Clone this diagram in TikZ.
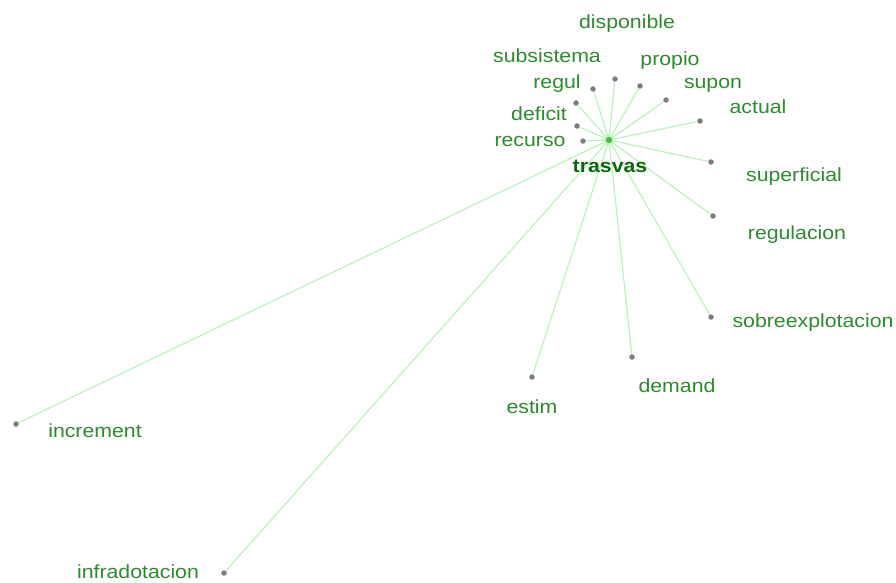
\documentclass[tikz,border=0pt]{standalone}
\usepackage{fontspec}
\setmainfont{Liberation Sans}[FakeStretch=1.12]
\definecolor{lblgreen}{RGB}{45,140,45}
\definecolor{hubgreen}{RGB}{10,105,10}
\definecolor{edgegreen}{RGB}{185,240,185}
\definecolor{dotgrey}{RGB}{125,125,125}
\tikzset{
  leaf/.style={circle,fill=dotgrey,inner sep=0pt,minimum size=5.5pt},
  hub/.style={circle,fill=green!45!gray,inner sep=0pt,minimum size=6pt},
  lbl/.style={text=lblgreen,inner sep=0pt,font=\fontsize{19}{21}\selectfont},
  hublbl/.style={text=hubgreen,inner sep=0pt,font=\fontsize{19}{21}\selectfont\bfseries},
  edge/.style={draw=edgegreen,line width=1.1pt}
}
\begin{document}
\begin{tikzpicture}[x=1pt,y=-1pt]
\useasboundingbox (0,0) rectangle (896,583);
\fill[white] (0,0) rectangle (896,583);
\fill[green!30,opacity=0.5] (609,140) circle (6pt);
\node[hub] (c) at (609,140) {};
% leaf dots
\node[leaf] (d1) at (615,79) {};
\node[leaf] (d2) at (640,86) {};
\node[leaf] (d3) at (593,89) {};
\node[leaf] (d4) at (576,103) {};
\node[leaf] (d5) at (577,126) {};
\node[leaf] (d6) at (583,141) {};
\node[leaf] (d7) at (666,100) {};
\node[leaf] (d8) at (700,121) {};
\node[leaf] (d9) at (711,162) {};
\node[leaf] (d10) at (713,216) {};
\node[leaf] (d11) at (711,317) {};
\node[leaf] (d12) at (632,357) {};
\node[leaf] (d13) at (532,377) {};
\node[leaf] (d14) at (16,424) {};
\node[leaf] (d15) at (224,573) {};
\foreach \i in {1,...,15} \draw[edge] (c) -- (d\i);
\node[hub] at (609,140) {};
% labels
\node[lbl] (l1) at (627,24) {disponible};
\node[lbl] (l2) at (547,56) {subsistema};
\node[lbl] (l3) at (670,61) {propio};
\node[lbl] (l4) at (557,84) {regul};
\node[lbl] (l5) at (713,85) {supon};
\node[lbl] (l6) at (539,114) {deficit};
\node[lbl] (l7) at (758,107) {actual};
\node[lbl] (l8) at (530,141) {recurso};
\node[hublbl] (hl) at (610,166) {trasvas};
\node[lbl] (l9) at (794,177) {superficial};
\node[lbl] (l10) at (797,235) {regulacion};
\node[lbl] (l11) at (813,323) {sobreexplotacion};
\node[lbl] (l12) at (677,386) {demand};
\node[lbl] (l13) at (532,407) {estim};
\node[lbl] (l14) at (95,431) {increment};
\node[lbl] (l15) at (138,572) {infradotacion};
\end{tikzpicture}
\end{document}
